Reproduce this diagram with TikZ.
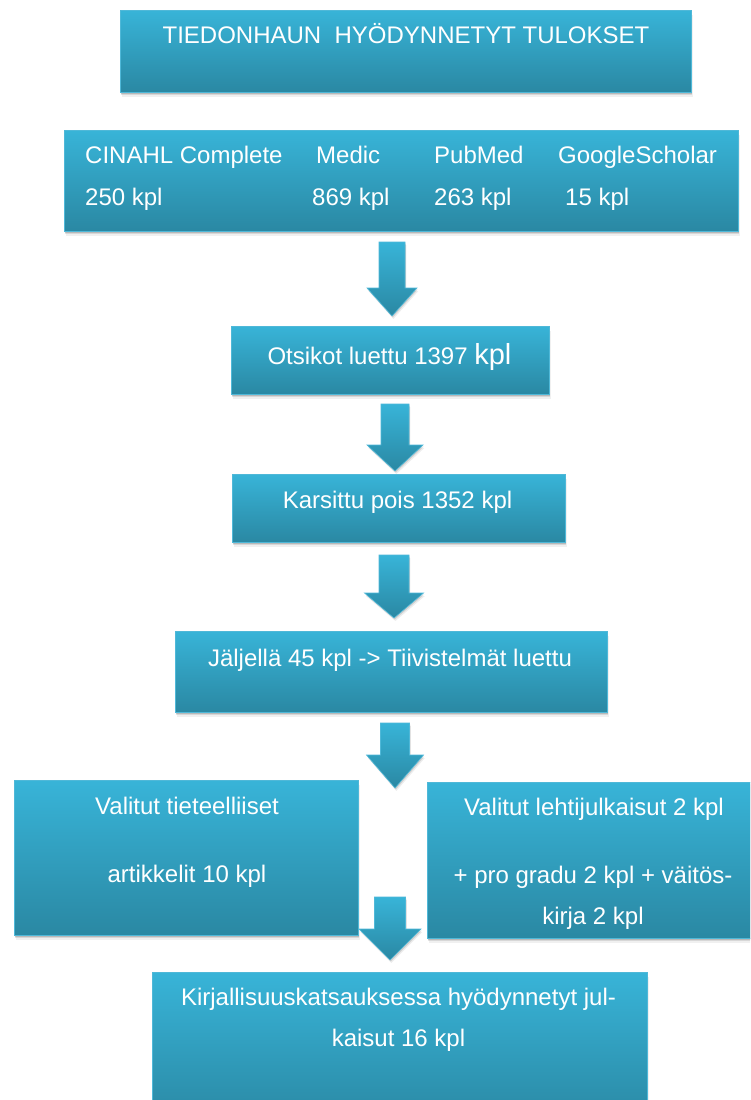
\documentclass[tikz,border=0pt]{standalone}
\usepackage{fontspec}
\setmainfont{Liberation Sans}
\usetikzlibrary{shadows,calc}
\definecolor{btop}{HTML}{38B4D8}
\definecolor{bbot}{HTML}{2A88A3}
\definecolor{bedge}{HTML}{4FB8D8}
\tikzset{
  softshadow/.style={
    drop shadow={shadow xshift=0.8pt, shadow yshift=-1.5pt, opacity=0.14, fill=black},
    drop shadow={shadow xshift=1.4pt, shadow yshift=-3pt, opacity=0.10, fill=black},
    drop shadow={shadow xshift=2pt, shadow yshift=-4.5pt, opacity=0.06, fill=black}},
  boxstyle/.style={rectangle, draw=bedge, line width=1pt, top color=btop, bottom color=bbot,
    inner sep=0pt, outer sep=0pt, softshadow},
  arrowstyle/.style={draw=bedge, line width=0.6pt, top color=btop, bottom color=bbot,
    drop shadow={shadow xshift=0.8pt, shadow yshift=-1.5pt, opacity=0.12, fill=black},
    drop shadow={shadow xshift=1.4pt, shadow yshift=-3pt, opacity=0.07, fill=black}},
  txt/.style={text=white, font=\fontsize{24}{29}\selectfont, inner sep=0pt, anchor=base},
  txtw/.style={txt, anchor=base west}
}
% block arrow: centre x, top y, head start y, tip y, shaft half width, head half width
\newcommand\blockarrow[6]{%
  \path[arrowstyle] (#1-#5,#2) -- (#1+#5,#2) -- (#1+#5,#3) -- (#1+#6,#3) -- (#1,#4)
    -- (#1-#6,#3) -- (#1-#5,#3) -- cycle;}
\begin{document}
\begin{tikzpicture}[x=1pt,y=-1pt]
\useasboundingbox (0,0) rectangle (750,1100);
\clip (0,0) rectangle (750,1100);
\fill[white] (0,0) rectangle (750,1100);

% boxes
\node[boxstyle, minimum width=571pt, minimum height=82pt] (b1) at (405.5,51) {};
\node[boxstyle, minimum width=674pt, minimum height=101pt] (b2) at (401,180.5) {};
\node[boxstyle, minimum width=318pt, minimum height=68pt] (b3) at (390,360) {};
\node[boxstyle, minimum width=333pt, minimum height=68pt] (b4) at (398.5,508) {};
\node[boxstyle, minimum width=432pt, minimum height=81pt] (b5) at (391,671.5) {};
\node[boxstyle, minimum width=344pt, minimum height=155pt] (b6) at (186,857.5) {};
\node[boxstyle, minimum width=333pt, minimum height=156pt] (b7) at (593.5,860) {};
\node[boxstyle, minimum width=495pt, minimum height=153pt] (b8) at (399.5,1048.5) {};

% arrows
\blockarrow{392}{242}{288}{316}{13}{25}
\blockarrow{395}{404}{445}{471}{14}{28}
\blockarrow{394}{555}{593}{618}{15}{29.5}
\blockarrow{395}{723}{755}{788}{14.5}{28.5}
\blockarrow{390}{897}{929}{960}{15.5}{31}

% texts
\node[txt] (t1) at (406,43) {TIEDONHAUN\ \ HYÖDYNNETYT TULOKSET};

\node[txtw] (s1) at (85,163) {CINAHL Complete};
\node[txtw] (s2) at (316,163) {Medic};
\node[txtw] (s3) at (434,163) {PubMed};
\node[txtw] (s4) at (558,163) {GoogleScholar};
\node[txtw] (n1) at (85,205) {250 kpl};
\node[txtw] (n2) at (312,205) {869 kpl};
\node[txtw] (n3) at (434,205) {263 kpl};
\node[txtw] (n4) at (565,205) {15 kpl};

\node[txt] (t3) at (389.5,364) {Otsikot luettu 1397 {\fontsize{29}{34}\selectfont kpl}};
\node[txt] (t4) at (397.5,508) {Karsittu pois 1352 kpl};
\node[txt] (t5) at (390,666) {Jäljellä 45 kpl -> Tiivistelmät luettu};

\node[txt] (t6a) at (187,814) {Valitut tieteelliiset};
\node[txt] (t6b) at (187,882) {artikkelit 10 kpl};

\node[txt] (t7a) at (594,815) {Valitut lehtijulkaisut 2 kpl};
\node[txt] (t7b) at (593,883) {+ pro gradu 2 kpl + väitös-};
\node[txt] (t7c) at (593,924) {kirja 2 kpl};

\node[txt] (t8a) at (398.5,1005) {Kirjallisuuskatsauksessa hyödynnetyt jul-};
\node[txt] (t8b) at (398.5,1046) {kaisut 16 kpl};
\end{tikzpicture}
\end{document}
